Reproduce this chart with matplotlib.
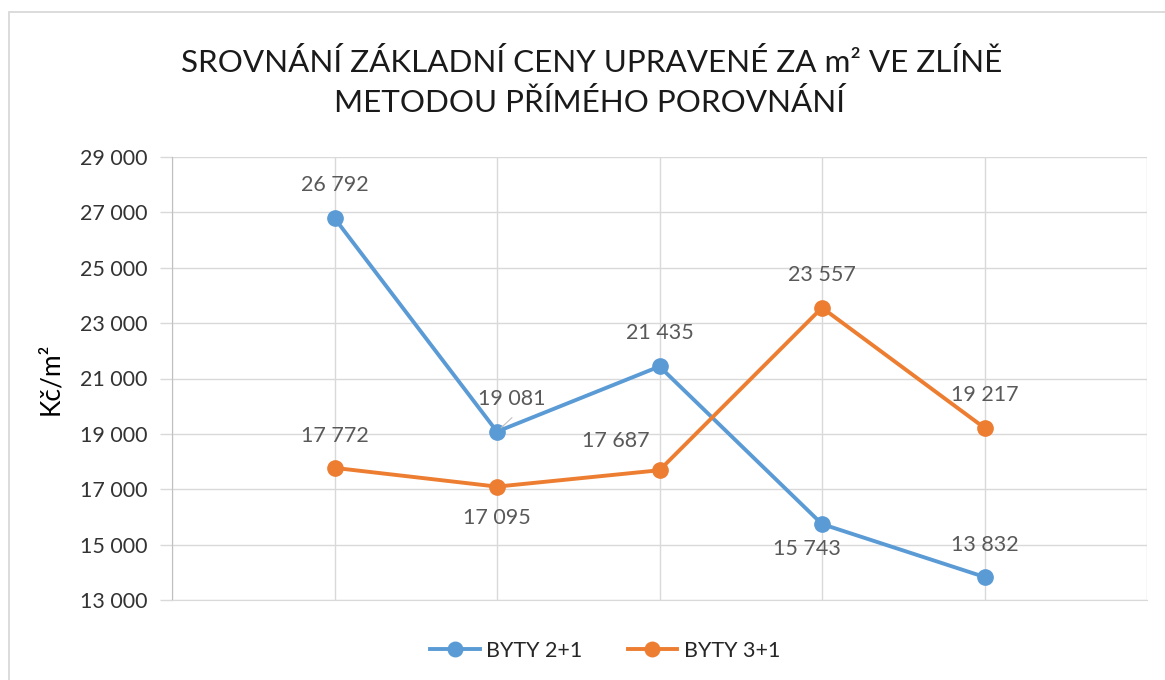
import matplotlib.pyplot as plt
from matplotlib.patches import Rectangle

plt.rcParams['font.family'] = ['Lato', 'DejaVu Sans']

# data
kategorie = [1, 2, 3, 4, 5]
byty_21 = [26792, 19081, 21435, 15743, 13832]
byty_31 = [17772, 17095, 17687, 23557, 19217]
y_ticks = [13000, 15000, 17000, 19000, 21000, 23000, 25000, 27000, 29000]

# offset of data labels in pixels
off_21 = [(0, 33), (15, 33), (0, 33), (-15, -25), (0, 32)]
off_31 = [(0, 32), (0, -31), (-44, 29), (0, 33), (0, 33)]

modra = '#5B9BD5'
oranz = '#ED7D31'
mrizka = '#D9D9D9'


def fmt(v):
    return '{:,}'.format(v).replace(',', ' ')


fig = plt.figure(figsize=(11.65, 6.8), dpi=100)
ax = fig.add_axes([172 / 1165, 1 - 600 / 680, 975 / 1165, 443 / 680])

# chart border
fig.patches.append(Rectangle((9 / 1165, -0.05), 1.2, 1.05 - 12 / 680, transform=fig.transFigure,
                             fill=False, edgecolor=mrizka, linewidth=1.3))

ax.plot(kategorie, byty_21, color=modra, lw=2.8, marker='o', ms=11, label='BYTY 2+1', zorder=3)
ax.plot(kategorie, byty_31, color=oranz, lw=2.8, marker='o', ms=11, label='BYTY 3+1', zorder=3)

for x, v, o in zip(kategorie, byty_21, off_21):
    ax.annotate(fmt(v), (x, v), xytext=o, textcoords='offset pixels', ha='center', va='center',
                fontsize=15.5, color='#595959')
for x, v, o in zip(kategorie, byty_31, off_31):
    ax.annotate(fmt(v), (x, v), xytext=o, textcoords='offset pixels', ha='center', va='center',
                fontsize=15.5, color='#595959')

# leader line for 19 081
ax.annotate('', (2, 19081), xytext=(15, 14), textcoords='offset pixels',
            arrowprops=dict(arrowstyle='-', color='#BFBFBF', lw=0.8, shrinkA=0, shrinkB=4))

ax.set_xlim(0, 6)
ax.set_ylim(13000, 29000)
ax.set_yticks(y_ticks)
ax.set_yticklabels([fmt(t) for t in y_ticks])
ax.set_xticks([0, 1, 2, 3, 4, 5, 6])
ax.set_xticklabels([])
ax.tick_params(axis='x', length=0)
ax.tick_params(axis='y', length=9, width=1, color=mrizka, pad=9, labelsize=15.5, labelcolor='#333333')
ax.grid(True, color=mrizka, lw=1)
ax.set_axisbelow(True)
for s in ['top', 'right']:
    ax.spines[s].set_visible(False)
ax.spines['left'].set_color('#BFBFBF')
ax.spines['bottom'].set_color(mrizka)

ax.set_ylabel('Kč/m²', fontsize=19, color='black')
ax.yaxis.set_label_coords(-0.112, 0.5)

fig.text(592 / 1165, 1 - 62 / 680, 'SROVNÁNÍ ZÁKLADNÍ CENY UPRAVENÉ ZA m² VE ZLÍNĚ',
         ha='center', va='center', fontsize=22.6, color='#1a1a1a')
fig.text(590 / 1165, 1 - 102 / 680, 'METODOU PŘÍMÉHO POROVNÁNÍ',
         ha='center', va='center', fontsize=22.6, color='#1a1a1a')

fig.legend(loc='center', bbox_to_anchor=(605 / 1165, 1 - 651 / 680), ncol=2, frameon=False,
           fontsize=15.5, handlelength=2.3, handletextpad=0.3, columnspacing=2.1,
           markerscale=0.95, labelcolor='#262626')

fig.savefig('out.png', dpi=100)
